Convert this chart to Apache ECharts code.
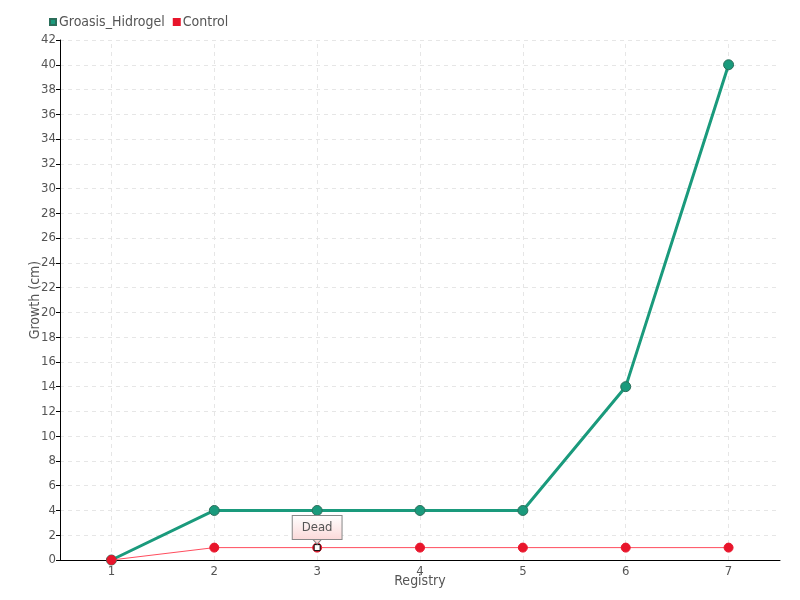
<!DOCTYPE html>
<html>
<head>
<meta charset="utf-8">
<script src="https://cdn.jsdelivr.net/npm/echarts@6/dist/echarts.min.js"></script>
<style>
  html, body { margin: 0; padding: 0; background: #fff; }
  #chart { width: 800px; height: 600px; }
</style>
</head>
<body>
<div id="chart"></div>
<script>
// data
const registry = ['1', '2', '3', '4', '5', '6', '7']
const hidrogel = [0, 4, 4, 4, 4, 14, 40]
const control = [0, 1, 1, 1, 1, 1, 1]
const deadIndex = 2 // registry 3

const font = 'DejaVu Sans Condensed'
const textGray = '#555'
const gridGray = '#e6e6e6'

const chart = echarts.init(document.getElementById('chart'))
chart.setOption({
  animation: false,
  textStyle: { fontFamily: font },
  legend: {
    left: 44,
    top: 10,
    icon: 'rect',
    itemWidth: 6,
    itemHeight: 6,
    itemGap: 8,
    textStyle: { color: textGray, fontSize: 14, fontFamily: font, padding: [0, 0, 0, -2] }
  },
  grid: { left: 60, right: 20, top: 40, bottom: 40, outerBoundsMode: 'none' },
  xAxis: {
    type: 'category',
    data: registry,
    name: 'Registry',
    nameLocation: 'middle',
    nameGap: 14,
    nameMoveOverlap: false,
    nameTextStyle: { color: textGray, fontSize: 14 },
    axisLine: { lineStyle: { color: '#000' } },
    axisTick: { alignWithLabel: true, length: 4, lineStyle: { color: '#000' } },
    axisLabel: { color: textGray, fontSize: 13, margin: 5 },
    splitLine: { show: false }
  },
  yAxis: {
    type: 'value',
    min: 0,
    max: 42,
    interval: 2,
    name: 'Growth (cm)',
    nameLocation: 'middle',
    nameGap: 18,
    nameMoveOverlap: false,
    nameTextStyle: { color: textGray, fontSize: 14 },
    axisLine: { show: true, lineStyle: { color: '#000' } },
    axisTick: { show: true, length: 4, lineStyle: { color: '#000' } },
    axisLabel: { color: textGray, fontSize: 13, margin: 4 },
    splitLine: { lineStyle: { color: gridGray, type: [4, 4] } }
  },
  series: [
    {
      name: 'Groasis_Hidrogel',
      type: 'line',
      data: hidrogel,
      symbol: 'circle',
      symbolSize: 10,
      color: '#1a9a7c',
      lineStyle: { width: 3, color: '#1a9a7c' },
      itemStyle: { color: '#1a9a7c', borderColor: '#2b6e5a', borderWidth: 1 },
      z: 2,
      // vertical dashed grid lines through the category centres
      markLine: {
        silent: true,
        symbol: 'none',
        label: { show: false },
        lineStyle: { color: gridGray, type: [4, 4], width: 1 },
        z: 0,
        data: registry.map(c => ({ xAxis: c }))
      }
    },
    {
      name: 'Control',
      type: 'line',
      data: control,
      symbol: 'circle',
      symbolSize: 9,
      color: '#e8152b',
      lineStyle: { width: 1, color: '#ff4d5e' },
      itemStyle: { color: '#e8152b', borderColor: '#e8152b', borderWidth: 1 },
      z: 3,
      markPoint: {
        data: [
          {
            coord: [deadIndex, control[deadIndex]],
            symbol: 'rect',
            symbolSize: 6,
            itemStyle: { color: '#fff', borderColor: '#000', borderWidth: 1 },
            label: {
              show: true,
              position: 'top',
              distance: 5,
              formatter: 'Dead',
              color: textGray,
              fontSize: 13,
              fontFamily: font,
              padding: [5, 9, 5, 9],
              borderColor: '#888',
              borderWidth: 1,
              backgroundColor: {
                type: 'linear', x: 0, y: 0, x2: 0, y2: 1,
                colorStops: [{ offset: 0, color: '#ffffff' }, { offset: 1, color: '#fbd8d8' }]
              }
            }
          },
          {
            // little pointer under the callout
            coord: [deadIndex, control[deadIndex]],
            symbol: 'triangle',
            symbolSize: [9, 5],
            symbolRotate: 180,
            symbolOffset: [0, -6],
            itemStyle: { color: '#fbd8d8', borderColor: '#888', borderWidth: 1 },
            label: { show: false }
          }
        ]
      }
    }
  ]
})
</script>
</body>
</html>
